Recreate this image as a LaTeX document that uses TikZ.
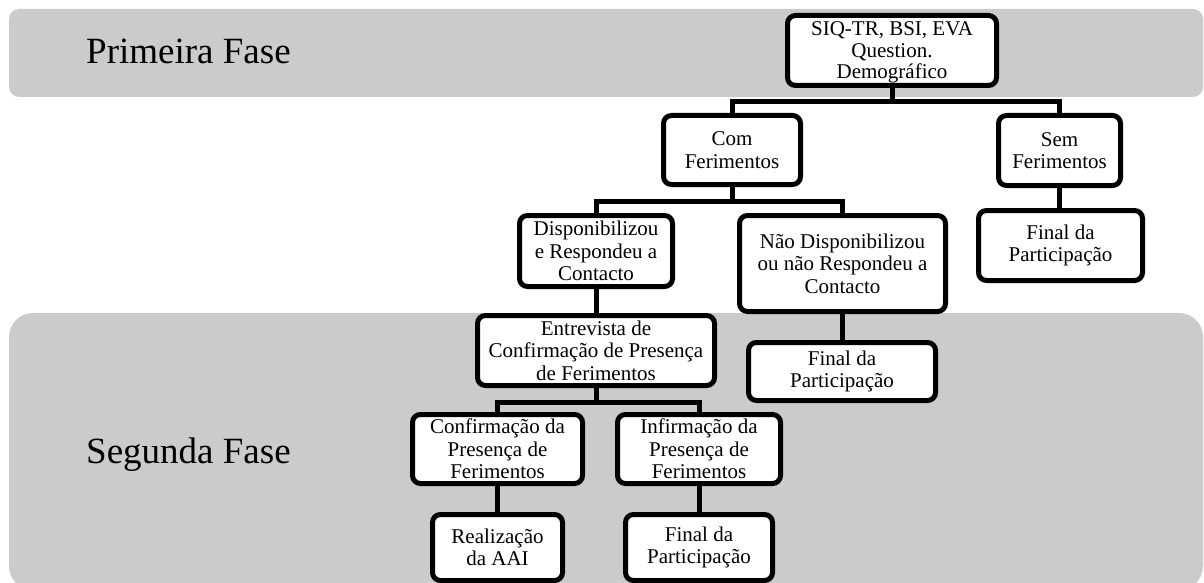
\documentclass[tikz,border=0pt]{standalone}
\usepackage{fontspec}
\setmainfont{Liberation Serif}
\definecolor{bandgray}{RGB}{203,203,203}
\begin{document}
\begin{tikzpicture}[x=1pt,y=-1pt,
  box/.style={draw=black, line width=5pt, fill=white, rounded corners=8pt, align=center, inner sep=0pt, font=\fontsize{21}{22.5}\selectfont},
  link/.style={line width=5pt, draw=black},
  phase/.style={anchor=base west, inner sep=0pt, font=\fontsize{37}{44}\selectfont}]
\useasboundingbox (0,0) rectangle (1204,583);
\fill[white] (0,0) rectangle (1204,583);
\fill[bandgray, rounded corners=10pt] (9,9) rectangle (1203,97);
\fill[bandgray, rounded corners=24pt] (9,313) rectangle (1203,590);
\node[phase] (p1) at (86,64) {Primeira Fase};
\node[phase] (p2) at (86,463) {Segunda Fase};

\node[box, minimum width=209pt, minimum height=70pt, font=\fontsize{21}{21.5}\selectfont] (top) at (892,50.5) {\rule{0pt}{18pt}SIQ-TR, BSI, EVA\\Question.\\Demográfico};
\node[box, minimum width=137pt, minimum height=69pt] (com) at (732,150) {Com\\Ferimentos};
\node[box, minimum width=122pt, minimum height=70pt] (sem) at (1059.5,150.5) {Sem\\Ferimentos};
\node[box, minimum width=164pt, minimum height=70pt] (fin1) at (1060.5,245.5) {Final da\\Participação};
\node[box, minimum width=153pt, minimum height=71pt] (disp) at (596,251) {Disponibilizou\\e Respondeu a\\Contacto};
\node[box, minimum width=206pt, minimum height=96pt] (nao) at (842.5,263.5) {Não Disponibilizou\\ou não Respondeu a\\Contacto};
\node[box, minimum width=187pt, minimum height=58pt] (fin2) at (842,371.5) {Final da\\Participação};
\node[box, minimum width=237pt, minimum height=70pt] (entr) at (596,350.5) {Entrevista de\\Confirmação de Presença\\de Ferimentos};
\node[box, minimum width=170pt, minimum height=69pt] (conf) at (497.5,449) {Confirmação da\\Presença de\\Ferimentos};
\node[box, minimum width=163pt, minimum height=69pt] (inf) at (699,449) {Infirmação da\\Presença de\\Ferimentos};
\node[box, minimum width=130pt, minimum height=66pt] (real) at (497.5,547.5) {Realização\\da AAI};
\node[box, minimum width=147pt, minimum height=66pt] (fin3) at (699,547.5) {Final da\\Participação};

\coordinate (b1) at (892,102);
\coordinate (b2) at (732,201);
\coordinate (b3) at (596,402);
\draw[link] (top.south) -- (b1);
\draw[link] (b1) -| (com.north);
\draw[link] (b1) -| (sem.north);
\draw[link] (com.south) -- (b2);
\draw[link] (b2) -| (disp.north);
\draw[link] (b2) -| (nao.north);
\draw[link] (sem.south) -- (sem.south |- fin1.north);
\draw[link] (disp.south) -- (entr.north);
\draw[link] (nao.south) -- (nao.south |- fin2.north);
\draw[link] (entr.south) -- (b3);
\draw[link] (b3) -| (conf.north);
\draw[link] (b3) -| (inf.north);
\draw[link] (conf.south) -- (real.north);
\draw[link] (inf.south) -- (fin3.north);
\end{tikzpicture}
\end{document}
